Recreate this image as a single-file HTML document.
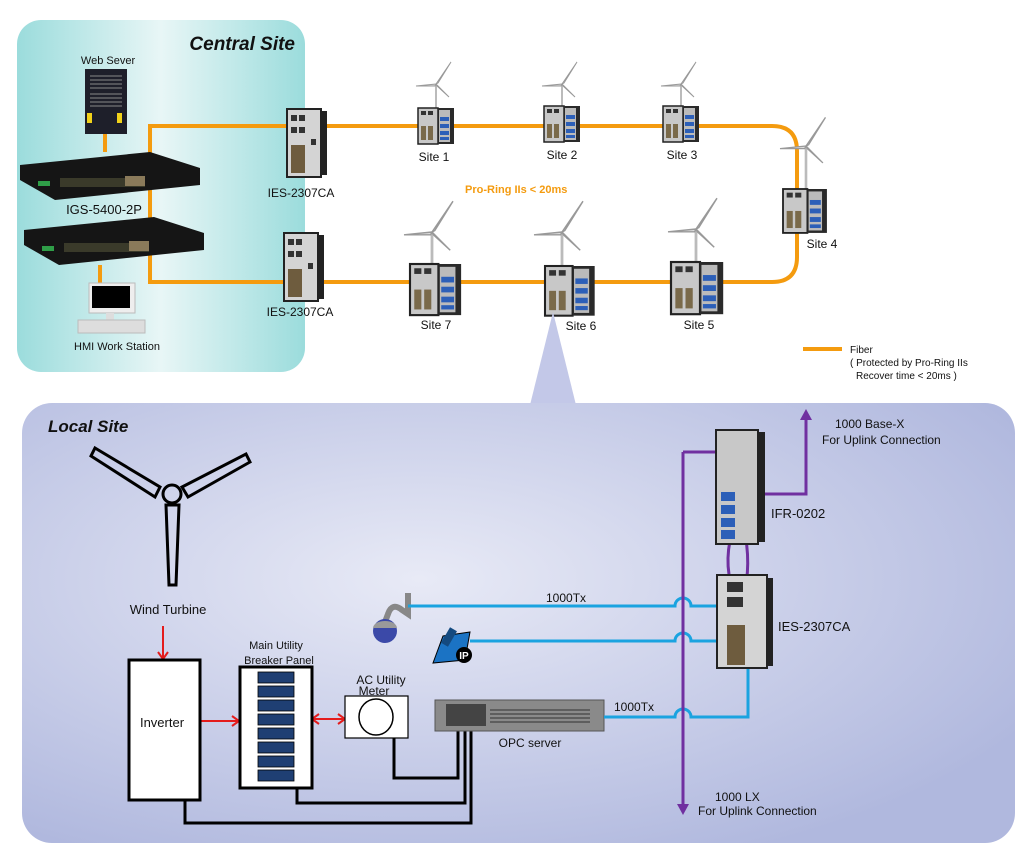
<!DOCTYPE html>
<html><head><meta charset="utf-8"><style>
html,body{margin:0;padding:0;background:#fff}
svg{display:block}
text{font-family:"Liberation Sans",Arial,sans-serif;fill:#111}
</style></head><body>
<svg width="1030" height="851" viewBox="0 0 1030 851" xmlns="http://www.w3.org/2000/svg">
<defs>
<linearGradient id="cg" x1="0" x2="1" y1="0" y2="0">
<stop offset="0" stop-color="#9bdcdc"/><stop offset="0.5" stop-color="#e8f6f6"/><stop offset="1" stop-color="#9bdcdc"/>
</linearGradient>
<radialGradient id="lg" cx="0.4" cy="0.4" r="0.7">
<stop offset="0" stop-color="#e8eaf6"/><stop offset="1" stop-color="#b0b8de"/>
</radialGradient>
<g id="sw">
<rect x="0" y="0" width="20" height="36" fill="#c8c8c8" stroke="#222" stroke-width="1.5"/>
<rect x="20" y="0" width="16" height="36" fill="#2a2a2a"/>
<rect x="21" y="2" width="11" height="32" fill="#bbb"/>
<rect x="22" y="9" width="9" height="4" fill="#2c5fb8"/><rect x="22" y="16" width="9" height="4" fill="#2c5fb8"/><rect x="22" y="23" width="9" height="4" fill="#2c5fb8"/><rect x="22" y="29" width="9" height="3" fill="#2c5fb8"/>
<rect x="3" y="3" width="5" height="4" fill="#333"/><rect x="10" y="3" width="5" height="4" fill="#333"/>
<rect x="3" y="18" width="5" height="14" fill="#7a6a4a"/><rect x="10" y="18" width="5" height="14" fill="#7a6a4a"/>
</g>
<g id="tb" stroke="#999" fill="#ddd">
<line x1="0" y1="0" x2="0" y2="40" stroke="#bbb" stroke-width="2"/>
<path d="M0 0 L15 -22 L2 -1 Z"/><path d="M0 0 L-20 2 L-1 2 Z"/><path d="M0 0 L13 13 L1 2 Z"/>
</g>
<g id="ies">
<rect x="0" y="0" width="34" height="68" fill="#d4d4d4" stroke="#222" stroke-width="2"/>
<rect x="34" y="2" width="6" height="64" fill="#222"/>
<rect x="4" y="6" width="6" height="6" fill="#333"/><rect x="12" y="6" width="6" height="6" fill="#333"/>
<rect x="4" y="18" width="6" height="6" fill="#333"/><rect x="12" y="18" width="6" height="6" fill="#333"/>
<rect x="4" y="36" width="14" height="28" fill="#6e5c3e"/>
<rect x="24" y="30" width="5" height="6" fill="#333"/>
</g>
</defs>

<!-- Central site -->
<rect x="17" y="20" width="288" height="352" rx="24" fill="url(#cg)"/>
<text x="295" y="50" font-size="19" font-weight="bold" font-style="italic" text-anchor="end">Central Site</text>

<!-- orange ring -->
<g fill="none" stroke="#f49b0f" stroke-width="4">
<path d="M105 134 V152"/>
<path d="M100 265 V285"/>
<path d="M150 265 V126 H772 Q797 126 797 151 V257 Q797 282 772 282 H150 V262"/>
<path d="M150 200 V220"/>
</g>
<line x1="803" y1="349" x2="842" y2="349" stroke="#f49b0f" stroke-width="4"/>

<!-- web server -->
<rect x="85" y="69" width="42" height="65" fill="#1e1f2a"/>
<g stroke="#888" stroke-width="1">
<path d="M90 76h32M90 80h32M90 84h32M90 88h32M90 94h32M90 98h32M90 102h32M90 106h32"/>
</g>
<rect x="87" y="113" width="5" height="10" fill="#f2d21a"/><rect x="117" y="113" width="5" height="10" fill="#f2d21a"/>
<text x="108" y="64" font-size="11" text-anchor="middle">Web Sever</text>

<!-- IGS switches -->
<path d="M20 165 L150 152 L200 168 L200 185 L55 200 L20 180 Z" fill="#151515"/>
<rect x="60" y="178" width="85" height="9" fill="#3a3a2a"/><rect x="125" y="176" width="20" height="10" fill="#8a7a5a"/>
<rect x="38" y="181" width="12" height="5" fill="#2f9e48"/>
<path d="M24 230 L154 217 L204 233 L204 250 L59 265 L24 245 Z" fill="#151515"/>
<rect x="64" y="243" width="85" height="9" fill="#3a3a2a"/><rect x="129" y="241" width="20" height="10" fill="#8a7a5a"/>
<rect x="42" y="246" width="12" height="5" fill="#2f9e48"/>
<text x="104" y="214" font-size="13" text-anchor="middle">IGS-5400-2P</text>

<!-- HMI -->
<rect x="89" y="283" width="46" height="30" fill="#eee" stroke="#bbb"/>
<rect x="92" y="286" width="38" height="22" fill="#000"/>
<rect x="106" y="313" width="8" height="8" fill="#ddd"/>
<rect x="78" y="320" width="67" height="13" fill="#ddd" stroke="#bbb"/>
<text x="117" y="350" font-size="11" text-anchor="middle">HMI Work Station</text>

<!-- central IES -->
<use href="#ies" x="287" y="109"/>
<use href="#ies" x="284" y="233"/>
<text x="301" y="197" font-size="12" text-anchor="middle">IES-2307CA</text>
<text x="300" y="316" font-size="12" text-anchor="middle">IES-2307CA</text>

<!-- sites -->
<use href="#tb" x="436" y="84"/><use href="#sw" x="418" y="108"/>
<use href="#tb" x="562" y="84"/><use href="#sw" x="544" y="106"/>
<use href="#tb" x="681" y="84"/><use href="#sw" x="663" y="106"/>
<use href="#tb" x="806" y="146" transform="translate(806 146) scale(1.3) translate(-806 -146)"/>
<use href="#sw" x="0" y="0" transform="translate(783 189) scale(1.22)"/>
<use href="#tb" x="0" y="0" transform="translate(432 232) scale(1.4)"/>
<use href="#sw" x="0" y="0" transform="translate(410 264) scale(1.42)"/>
<use href="#tb" x="0" y="0" transform="translate(562 232) scale(1.4)"/>
<use href="#sw" x="0" y="0" transform="translate(545 266) scale(1.38)"/>
<use href="#tb" x="0" y="0" transform="translate(696 229) scale(1.4)"/>
<use href="#sw" x="0" y="0" transform="translate(671 262) scale(1.45)"/>
<g font-size="12" text-anchor="middle">
<text x="434" y="161">Site 1</text><text x="562" y="159">Site 2</text><text x="682" y="159">Site 3</text>
<text x="822" y="248">Site 4</text><text x="436" y="329">Site 7</text><text x="581" y="330">Site 6</text><text x="699" y="329">Site 5</text>
</g>
<text x="465" y="193" font-size="11" font-weight="bold" style="fill:#f49b0f">Pro-Ring IIs &lt; 20ms</text>
<g font-size="10"><text x="850" y="353">Fiber</text><text x="850" y="366">( Protected by Pro-Ring IIs</text><text x="856" y="379">Recover time &lt; 20ms )</text></g>

<!-- local site -->
<path d="M553 312 L530 405 L576 405 Z" fill="#c3c8e8"/>
<rect x="22" y="403" width="993" height="440" rx="30" fill="url(#lg)"/>
<text x="48" y="432" font-size="17" font-weight="bold" font-style="italic">Local Site</text>

<!-- black turbine -->
<g fill="none" stroke="#000" stroke-width="3">
<path d="M95 448 L160 487 L155 497 L91 456 Z"/>
<path d="M250 462 L188 497 L182 487 L246 454 Z"/>
<circle cx="172" cy="494" r="9"/>
<path d="M166 505 L179 505 L176 585 L169 585 Z"/>
</g>
<text x="168" y="614" font-size="13" text-anchor="middle">Wind Turbine</text>

<!-- red arrows -->
<g stroke="#e41c1c" stroke-width="2" fill="none">
<path d="M163 626 V658"/><path d="M158 652 L163 659 L168 652"/>
<path d="M200 721 H238"/><path d="M232 716 L239 721 L232 726"/>
<path d="M313 719 H344"/><path d="M319 714 L312 719 L319 724"/><path d="M338 714 L345 719 L338 724"/>
</g>

<!-- inverter -->
<rect x="129" y="660" width="71" height="140" fill="#fff" stroke="#000" stroke-width="3"/>
<text x="162" y="727" font-size="13" text-anchor="middle">Inverter</text>
<!-- breaker panel -->
<text x="276" y="649" font-size="11" text-anchor="middle">Main Utility</text>
<text x="279" y="664" font-size="11" text-anchor="middle">Breaker Panel</text>
<rect x="240" y="667" width="72" height="121" fill="#fff" stroke="#000" stroke-width="3"/>
<g fill="#1f3f73" stroke="#000" stroke-width="0.8">
<rect x="258" y="672" width="36" height="11"/><rect x="258" y="686" width="36" height="11"/><rect x="258" y="700" width="36" height="11"/><rect x="258" y="714" width="36" height="11"/>
<rect x="258" y="728" width="36" height="11"/><rect x="258" y="742" width="36" height="11"/><rect x="258" y="756" width="36" height="11"/><rect x="258" y="770" width="36" height="11"/>
</g>
<!-- meter -->
<text x="381" y="684" font-size="12" text-anchor="middle">AC Utility</text>
<text x="374" y="695" font-size="12" text-anchor="middle">Meter</text>
<rect x="345" y="696" width="63" height="42" fill="#fff" stroke="#000" stroke-width="1.2"/>
<ellipse cx="376" cy="717" rx="17" ry="18" fill="#fff" stroke="#000" stroke-width="1.5"/>
<!-- black wires -->
<g fill="none" stroke="#000" stroke-width="3">
<path d="M394 738 V778 H458 V731"/>
<path d="M297 788 V803 H465 V731"/>
<path d="M185 800 V823 H471 V731"/>
</g>
<!-- OPC server -->
<rect x="435" y="700" width="169" height="31" fill="#8a8a8a" stroke="#555"/>
<rect x="446" y="704" width="40" height="22" fill="#444"/>
<g stroke="#333"><path d="M490 710h100M490 714h100M490 718h100M490 722h100"/></g>
<text x="530" y="747" font-size="12" text-anchor="middle">OPC server</text>

<!-- camera & phone -->
<path d="M408 593 V614 L402 610 Q392 602 388 614 L385 622" fill="none" stroke="#888" stroke-width="6"/>
<circle cx="385" cy="631" r="12" fill="#3b49a8"/>
<path d="M373 628 A12 7 0 0 1 397 628 Z" fill="#9a9a9a"/>
<path d="M433 663 L443 636 L470 632 L465 660 Z" fill="#1b73c4" stroke="#000"/>
<rect x="445" y="628" width="8" height="18" fill="#144a80" transform="rotate(30 449 637)"/>
<circle cx="464" cy="655" r="8" fill="#000"/><text x="464" y="659" font-size="10" text-anchor="middle" font-weight="bold" style="fill:#fff">IP</text>

<!-- blue lines with hops -->
<g fill="none" stroke="#1aa3e0" stroke-width="3">
<path d="M408 606 H675 A8 8 0 0 1 691 606 H718"/>
<path d="M470 641 H675 A8 8 0 0 1 691 641 H718"/>
<path d="M604 717 H675 A8 8 0 0 1 691 717 H748 V668"/>
</g>
<text x="546" y="602" font-size="12">1000Tx</text>
<text x="614" y="711" font-size="12">1000Tx</text>

<!-- purple -->
<g fill="none" stroke="#7030a0" stroke-width="3">
<path d="M683 452 V806"/><path d="M683 452 H718"/>
<path d="M762 494 H806 V418"/>
<path d="M735 522 Q722 560 733 590"/><path d="M741 517 Q752 555 745 590"/>
</g>
<path d="M677 804 L683 815 L689 804 Z" fill="#7030a0"/>
<path d="M800 420 L806 409 L812 420 Z" fill="#7030a0"/>

<!-- IFR-0202 -->
<rect x="716" y="430" width="42" height="114" fill="#c8c8c8" stroke="#222" stroke-width="2"/>
<rect x="758" y="432" width="7" height="110" fill="#222"/>
<g fill="#2c5fb8"><rect x="721" y="492" width="14" height="9"/><rect x="721" y="505" width="14" height="9"/><rect x="721" y="518" width="14" height="9"/><rect x="721" y="530" width="14" height="9"/></g>
<!-- local IES -->
<rect x="717" y="575" width="50" height="93" fill="#d4d4d4" stroke="#222" stroke-width="2"/>
<rect x="767" y="578" width="6" height="88" fill="#222"/>
<rect x="727" y="582" width="16" height="10" fill="#333"/><rect x="727" y="597" width="16" height="10" fill="#333"/>
<rect x="727" y="625" width="18" height="40" fill="#6e5c3e"/>
<text x="778" y="631" font-size="13">IES-2307CA</text>
<text x="771" y="518" font-size="13">IFR-0202</text>
<text x="835" y="428" font-size="12">1000 Base-X</text>
<text x="822" y="444" font-size="12">For Uplink Connection</text>
<text x="715" y="801" font-size="12">1000 LX</text>
<text x="698" y="815" font-size="12">For Uplink Connection</text>
</svg>
</body></html>
